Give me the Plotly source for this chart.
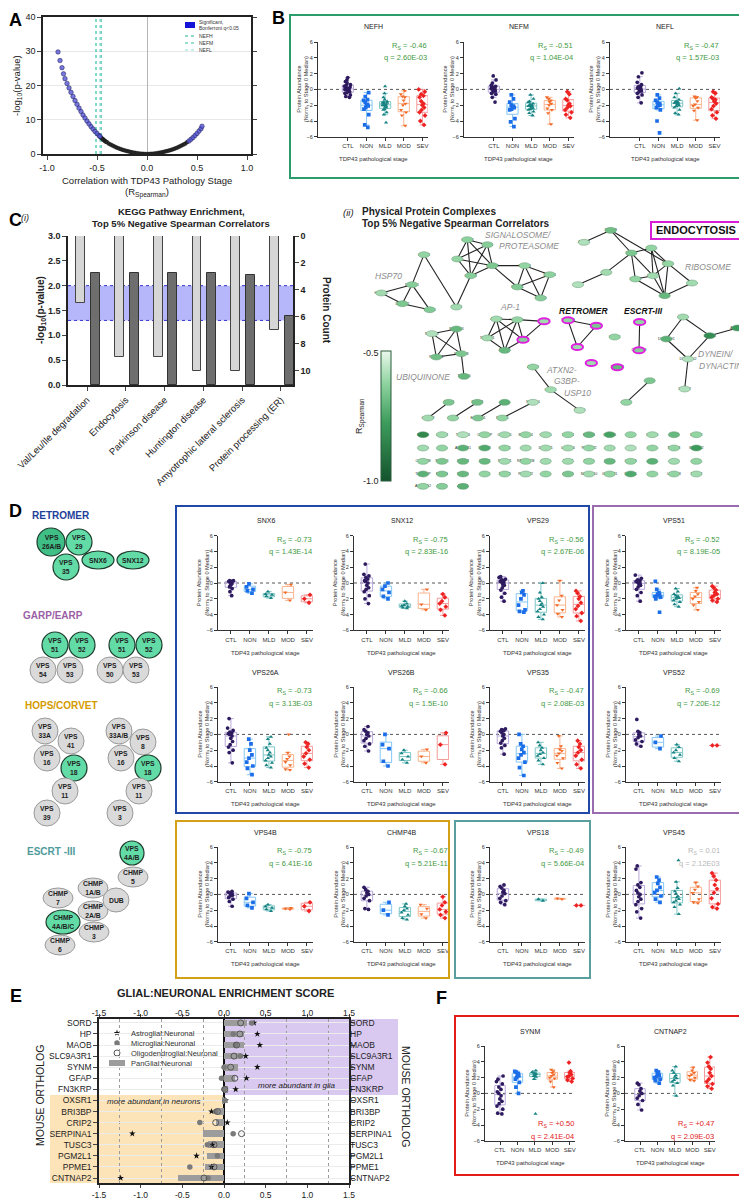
import plotly.graph_objects as go
import plotly.colors as pc

W, H = 747, 1199
FONT = "Liberation Sans, Arial, sans-serif"

# ---------------- A : volcano ----------------
A_SIG_R = [-0.89, -0.87, -0.85, -0.835, -0.82, -0.80, -0.78, -0.76, -0.74, -0.72, -0.70, -0.68, -0.66,
           -0.64, -0.62, -0.60, -0.58, -0.56, -0.54, -0.52, -0.50, -0.48, -0.47,
           0.42, 0.44, 0.46, 0.48, 0.50, 0.52, 0.54, 0.55]
A_SIG_P = [29.8, 27.3, 25.2, 23.4, 22.0, 20.6, 19.3, 18.0, 16.8, 15.6, 14.5, 13.4, 12.4,
           11.4, 10.5, 9.6, 8.8, 8.0, 7.3, 6.6, 6.0, 5.4, 5.1,
           3.8, 4.3, 4.8, 5.4, 6.0, 6.7, 7.4, 8.1]
A_NS_R = [-0.46, -0.45, -0.44, -0.43, -0.42, -0.41, -0.40, -0.38, -0.36, -0.34, -0.32, -0.30, -0.28, -0.26,
          -0.24, -0.22, -0.20, -0.18, -0.16, -0.14, -0.12, -0.10, -0.08, -0.06, -0.04, -0.02, 0.0, 0.02,
          0.04, 0.06, 0.08, 0.10, 0.12, 0.14, 0.16, 0.18, 0.20, 0.22, 0.24, 0.26, 0.28, 0.30, 0.32, 0.34,
          0.36, 0.38, 0.40]
A_NS_P = [4.8, 4.5, 4.3, 4.0, 3.8, 3.6, 3.4, 3.0, 2.7, 2.4, 2.1, 1.85, 1.6, 1.4, 1.2, 1.0, 0.85, 0.7,
          0.56, 0.44, 0.33, 0.25, 0.17, 0.1, 0.05, 0.02, 0.0, 0.02, 0.05, 0.1, 0.17, 0.25, 0.33, 0.44,
          0.56, 0.7, 0.85, 1.0, 1.2, 1.4, 1.6, 1.85, 2.1, 2.4, 2.7, 3.0, 3.4]

# ---------------- box plot data (CTL, NON, MLD, MOD, SEV) ----------------
STAGES = ["CTL", "NON", "MLD", "MOD", "SEV"]
NEFH = [[1.5, 1.2, 1.0, 0.8, 0.6, 0.5, 0.4, 0.3, 0.2, 0.1, 0.0, 0.0, -0.1, -0.2, -0.3, -0.4, -0.5, -0.7, -0.9, -1.0],
        [-0.4, -0.9, -1.3, -1.4, -1.6, -1.9, -2.0, -2.1, -2.3, -2.5, -3.2, -4.5, -4.8],
        [0.4, -0.5, -1.0, -1.3, -1.5, -1.6, -1.7, -1.7, -1.8, -1.9, -2.0, -2.0, -2.1, -2.2, -2.3, -2.5, -2.6, -2.9, -3.2, -4.2],
        [-0.2, -0.6, -0.9, -1.0, -1.4, -1.8, -2.0, -2.6, -2.9, -3.3, -4.6],
        [0.0, -0.3, -0.6, -0.8, -1.0, -1.5, -1.8, -2.0, -2.3, -2.6, -2.9, -3.3, -4.0, -4.5]]
NEFM = [[1.7, 1.2, 0.8, 0.5, 0.4, 0.3, 0.2, 0.1, 0.0, 0.0, -0.1, -0.2, -0.3, -0.5, -0.6, -1.0, -1.6],
        [-0.7, -1.2, -1.6, -2.0, -2.1, -2.2, -2.3, -2.5, -2.6, -3.7, -4.1, -4.7],
        [-0.7, -1.2, -1.5, -1.6, -1.8, -1.9, -2.0, -2.1, -2.1, -2.2, -2.3, -2.4, -2.5, -2.6, -2.8, -3.0, -3.3],
        [-1.0, -1.2, -1.4, -1.6, -1.8, -2.0, -2.4, -2.6, -3.0, -4.4],
        [-0.3, -0.6, -1.2, -1.4, -1.8, -2.0, -2.1, -2.3, -2.6, -2.9, -3.2, -3.6]]
NEFL = [[2.1, 1.6, 0.9, 0.6, 0.4, 0.3, 0.2, 0.1, 0.0, -0.1, -0.2, -0.3, -0.5, -0.7, -1.0, -1.7],
        [-0.7, -1.1, -1.4, -1.6, -1.8, -1.9, -2.0, -2.1, -2.3, -2.6, -4.0, -5.5],
        [0.1, -0.5, -1.0, -1.3, -1.5, -1.6, -1.7, -1.7, -1.8, -1.9, -2.0, -2.1, -2.3, -2.6, -3.0, -3.2],
        [-0.9, -1.0, -1.1, -1.5, -1.9, -2.1, -2.3, -2.7, -3.9],
        [-0.3, -0.5, -1.0, -1.2, -1.3, -1.5, -1.8, -2.1, -2.5, -2.9, -3.3, -3.7]]
SNX6 = [[0.3, 0.3, 0.2, 0.2, 0.1, 0.1, 0.0, -0.1, -0.3, -0.5, -0.7, -1.1, -1.6],
        [-0.1, -0.5, -0.8, -1.0, -1.3], [-1.1, -1.4, -1.5, -1.7, -1.9], [-0.2, -1.2, -2.2], [-1.5, -2.0, -2.5]]
SNX12 = [[2.4, 1.1, 0.9, 0.7, 0.5, 0.3, 0.2, 0.0, -0.3, -0.6, -0.8, -1.1, -1.6, -2.0, -2.6],
         [0.0, -0.4, -0.8, -1.2, -1.7, -2.0], [-2.3, -2.6, -2.8, -2.9, -3.0, -3.1, -3.2], [-0.8, -2.7, -3.4],
         [-1.4, -1.8, -2.3, -2.6, -3.0, -3.4, -4.1]]
VPS29 = [[0.8, 0.7, 0.5, 0.4, 0.3, 0.2, 0.1, 0.0, -0.2, -0.3, -0.6, -0.9, -1.3, -1.8, -2.3],
         [-1.0, -1.2, -1.5, -2.0, -2.8, -3.4, -3.6, -3.7],
         [0.0, -1.2, -1.8, -2.0, -2.3, -2.6, -2.8, -3.0, -3.3, -3.6, -4.0, -4.3, -4.6],
         [0.3, -1.6, -2.2, -2.8, -3.4, -3.9, -4.3],
         [-1.0, -1.3, -1.7, -2.0, -2.5, -2.9, -3.3, -3.8, -4.2, -4.8]]
VPS51 = [[1.0, 0.6, 0.4, 0.3, 0.2, 0.1, 0.0, -0.1, -0.3, -0.5, -0.8, -1.2, -1.6, -2.3],
         [0.2, -0.8, -1.2, -1.4, -1.5, -1.6, -1.7, -1.8, -2.0, -3.7],
         [-0.7, -1.1, -1.4, -1.6, -1.7, -1.8, -1.9, -2.0, -2.2, -2.4, -2.7, -3.0],
         [-0.6, -1.0, -1.4, -1.7, -2.0, -2.4, -2.8, -3.4],
         [-0.4, -0.6, -0.9, -1.2, -1.4, -1.6, -1.8, -2.0, -2.2, -2.4]]
VPS26A = [[2.0, 0.8, 0.5, 0.3, 0.2, 0.1, 0.0, -0.2, -0.5, -0.9, -1.3, -1.6, -2.0, -2.3, -3.6],
          [-0.6, -1.2, -2.0, -2.6, -3.0, -3.5, -4.0, -4.3, -5.1],
          [-0.3, -0.6, -1.2, -1.7, -2.0, -2.3, -2.6, -2.8, -3.0, -3.3, -3.6, -3.9, -4.2],
          [0.0, -2.3, -2.8, -3.1, -3.5, -3.9, -4.4, -4.5],
          [-1.0, -1.2, -1.6, -2.0, -2.4, -2.8, -3.2, -3.7, -4.2]]
VPS26B = [[1.0, 0.6, 0.4, 0.2, 0.0, -0.2, -0.5, -0.8, -1.2, -1.5, -2.1],
          [0.0, -1.3, -1.8, -3.4, -4.0], [-2.0, -2.4, -2.8, -3.2, -3.6], [-1.9, -2.8, -3.6], [0.2, -1.3, -3.8]]
VPS35 = [[0.7, 0.6, 0.5, 0.4, 0.2, 0.0, -0.2, -0.5, -0.8, -1.1, -1.4, -1.7, -2.5],
         [0.0, -1.2, -1.5, -1.9, -2.3, -2.6, -3.0, -3.5, -4.2, -5.2],
         [-1.0, -1.4, -1.7, -2.0, -2.3, -2.5, -2.7, -3.0, -3.3, -3.8],
         [-0.2, -1.5, -1.9, -2.1, -2.4, -2.7, -3.0, -3.6, -4.3],
         [-0.8, -1.2, -1.6, -2.0, -2.3, -2.7, -3.2, -3.8, -4.3]]
VPS52 = [[1.9, 0.4, 0.2, 0.0, -0.2, -0.4, -0.7, -0.9, -1.2, -1.5],
         [-0.2, -1.0, -1.8], [-1.3, -1.6, -2.0, -2.3, -2.6, -3.0, -3.4], [], [-1.4, -1.4]]
VPS4B = [[0.4, 0.3, 0.2, 0.1, 0.0, -0.1, -0.2, -0.4, -0.6, -0.9, -1.5],
         [0.1, -0.5, -1.0, -1.4, -1.7], [-1.3, -1.5, -1.7, -1.9, -2.1], [-1.7, -1.8, -1.9], [-1.0, -1.5, -2.1]]
CHMP4B = [[0.9, 0.6, 0.4, 0.2, 0.0, -0.2, -0.5, -0.8, -1.8, -1.9],
          [-1.0, -2.0, -2.6], [-1.2, -1.5, -1.8, -2.0, -2.3, -2.6, -3.0, -3.2], [-1.3, -1.8, -2.5, -3.0],
          [-0.3, -1.0, -1.4, -1.9, -2.2, -2.6, -3.0]]
VPS18 = [[1.2, 1.0, 0.8, 0.5, 0.3, 0.1, -0.2, -0.5, -0.8, -1.0, -1.3], [], [-0.6, -0.8], [-0.5, -0.6], [-1.4, -1.4]]
VPS45 = [[3.6, 3.2, 1.5, 1.2, 0.9, 0.5, 0.2, 0.0, -0.3, -0.6, -0.9, -1.3, -1.8, -2.2, -3.0],
         [2.2, 1.8, 1.4, 0.9, 0.5, 0.2, -0.2, -0.6, -1.0],
         [4.3, 1.6, 0.8, 0.4, 0.1, -0.2, -0.4, -0.6, -0.8, -1.0, -1.3, -1.6, -2.5],
         [1.5, 1.0, 0.6, 0.2, -0.6, -1.0, -1.1],
         [2.7, 2.3, 1.8, 1.2, 0.7, 0.2, -0.5, -1.2, -1.6, -1.8]]
SYNM = [[2.2, 1.8, 1.5, 1.2, 0.8, 0.5, 0.2, 0.0, -0.3, -0.7, -1.0, -1.3, -1.6, -2.0, -2.5, -2.6],
        [2.8, 2.7, 2.5, 2.3, 2.2, 2.0, 1.8, 1.4, 0.8, 0.0],
        [2.9, 2.7, 2.6, 2.5, 2.4, 2.4, 2.3, 2.2, 2.1, 1.8, -2.6],
        [3.0, 2.8, 2.6, 2.4, 2.2, 2.0, 1.9, 1.5, 0.8],
        [3.9, 2.8, 2.6, 2.4, 2.2, 2.1, 1.9, 1.7, 1.5]]
CNTNAP2 = [[1.3, 1.1, 0.6, 0.3, 0.0, -0.3, -0.6, -0.9, -1.4, -2.1],
           [2.9, 2.7, 2.5, 2.3, 2.1, 2.0, 1.8, 1.6, 1.3],
           [3.4, 2.9, 2.6, 2.3, 2.1, 1.9, 1.7, 1.5, 1.3, 1.0, -0.3],
           [3.3, 2.9, 2.6, 2.4, 2.2, 2.0, 1.7, 1.6],
           [4.6, 3.9, 3.4, 3.1, 2.6, 2.2, 1.8, 1.5, 1.2, 0.9, 0.6]]

NEF_NAMES = ["NEFH", "NEFM", "NEFL"]
NEF_RS = [-0.46, -0.51, -0.47]
NEF_Q = ["2.60E-03", "1.04E-04", "1.57E-03"]

# ---------------- C(i) : KEGG ----------------
KEGG_TERMS = ["Val/Leu/Ile degradation", "Endocytosis", "Parkinson disease", "Huntington disease",
              "Amyotrophic lateral sclerosis", "Protein processing (ER)"]
KEGG_LOGP = [2.26, 2.26, 2.26, 2.26, 2.22, 1.39]
KEGG_COUNT = [5, 9, 9, 10, 10, 7]

# ---------------- C(ii) : network (layout units) ----------------
NET_NODES = [
    ("CCT6B", 258, 125, -0.62, 0), ("DNAJA1", 222, 215, -0.64, 0), ("HSPA4L", 130, 240, -0.60, 0),
    ("DNAJA2", 193, 272, -0.66, 0), ("HSPA4", 275, 290, -0.65, 0), ("STAT3", 355, 282, -0.60, 0),
    ("COPS3", 388, 80, -0.63, 0), ("TCEB1", 448, 95, -0.64, 0), ("GPS1", 358, 138, -0.62, 0),
    ("COPS2", 463, 158, -0.66, 0), ("COPS8", 398, 188, -0.64, 0), ("PSMD4", 560, 158, -0.62, 0),
    ("PSMC4", 635, 185, -0.63, 0), ("PSMC1", 538, 222, -0.65, 0), ("UCHL5", 608, 255, -0.64, 0),
    ("ACAA1", 738, 88, -0.58, 0), ("SNRPB", 818, 52, -0.68, 0), ("RPL38", 880, 120, -0.66, 0),
    ("RTCA", 940, 105, -0.62, 0), ("EIF3I", 805, 178, -0.60, 0), ("NACA", 720, 215, -0.58, 0),
    ("RPS15", 990, 152, -0.62, 0), ("RPS27", 945, 188, -0.60, 0), ("RPS23", 892, 198, -0.62, 0),
    ("EIF1", 980, 248, -0.70, 0), ("EIF5", 1062, 210, -0.60, 0),
    ("AP1M1", 475, 318, -0.60, 0), ("AP1B1", 538, 320, -0.62, 0), ("AAK1", 618, 325, -0.60, 1),
    ("NECAP1", 448, 375, -0.60, 0), ("AP1S2", 555, 380, -0.64, 1), ("AP1G1", 500, 412, -0.70, 0),
    ("VPS26A", 690, 322, -0.62, 1), ("SNX12", 775, 338, -0.66, 1), ("VPS35", 718, 402, -0.60, 1),
    ("VPS52", 830, 372, -0.62, 0), ("EHD1", 760, 450, -0.60, 1), ("SNAP91", 838, 463, -0.70, 1),
    ("VPS4B", 905, 327, -0.62, 1), ("CHMP4B", 903, 412, -0.64, 1),
    ("NDUFA7", 282, 362, -0.58, 0), ("NDUFS3", 355, 348, -0.70, 0), ("NDUFV1", 295, 432, -0.68, 0),
    ("NDUFS8", 370, 422, -0.66, 0), ("TIMM50", 378, 490, -0.70, 0),
    ("ATXN2", 585, 462, -0.62, 0), ("G3BP1", 638, 530, -0.60, 0), ("USP10", 725, 592, -0.58, 0),
    ("KIF5A", 1035, 312, -0.60, 0), ("DYNC1H1", 985, 378, -0.72, 0), ("DCTN4", 1115, 368, -0.82, 0),
    ("ACTR1B", 1198, 345, -0.78, 0), ("DYNC1LI2", 1050, 438, -0.58, 0), ("DCDC2", 1040, 528, -0.58, 0),
    ("TEC", 935, 503, -0.66, 0), ("CARS", 865, 568, -0.62, 0), ("ATP5J", 332, 568, -0.66, 0),
    ("C14orf2", 270, 615, -0.60, 0), ("RAB1B", 418, 568, -0.68, 0), ("BNIP1", 345, 615, -0.62, 0),
    ("DST", 500, 568, -0.72, 0), ("ECHDC1", 420, 615, -0.66, 0), ("NAP1L4", 585, 568, -0.58, 0),
    ("MAP1S", 493, 615, -0.62, 0),
]
NET_EDGES = [
    ("CCT6B", "DNAJA1"), ("CCT6B", "STAT3"), ("DNAJA1", "HSPA4L"), ("DNAJA1", "DNAJA2"), ("DNAJA1", "HSPA4"),
    ("HSPA4L", "DNAJA2"), ("DNAJA2", "HSPA4"), ("STAT3", "COPS8"),
    ("COPS3", "TCEB1"), ("COPS3", "GPS1"), ("COPS3", "COPS2"), ("COPS3", "COPS8"), ("TCEB1", "GPS1"),
    ("TCEB1", "COPS2"), ("TCEB1", "COPS8"), ("GPS1", "COPS2"), ("GPS1", "COPS8"), ("COPS2", "COPS8"),
    ("COPS2", "PSMD4"), ("COPS2", "PSMC1"), ("PSMD4", "PSMC4"), ("PSMD4", "PSMC1"), ("PSMD4", "UCHL5"),
    ("PSMC4", "PSMC1"), ("PSMC4", "UCHL5"), ("PSMC1", "UCHL5"),
    ("ACAA1", "SNRPB"), ("SNRPB", "RPL38"), ("SNRPB", "RPS15"), ("RPL38", "RTCA"), ("RPL38", "EIF3I"),
    ("RPL38", "RPS23"), ("RPL38", "RPS27"), ("RTCA", "RPS15"), ("RTCA", "RPS27"), ("RTCA", "EIF1"),
    ("RPS15", "RPS27"), ("RPS15", "EIF1"), ("RPS15", "EIF5"), ("RPS27", "RPS23"), ("RPS27", "EIF1"),
    ("RPS23", "EIF1"), ("EIF3I", "NACA"), ("EIF5", "EIF1"),
    ("AP1M1", "AP1B1"), ("AP1M1", "NECAP1"), ("AP1M1", "AP1S2"), ("AP1M1", "AP1G1"), ("AP1B1", "NECAP1"),
    ("AP1B1", "AP1S2"), ("AP1B1", "AP1G1"), ("AP1B1", "AAK1"), ("NECAP1", "AP1G1"), ("AP1S2", "AP1G1"),
    ("AAK1", "AP1S2"),
    ("VPS26A", "SNX12"), ("VPS26A", "VPS35"), ("SNX12", "VPS35"), ("VPS4B", "CHMP4B"),
    ("NDUFA7", "NDUFS3"), ("NDUFA7", "NDUFV1"), ("NDUFA7", "NDUFS8"), ("NDUFS3", "NDUFV1"),
    ("NDUFS3", "NDUFS8"), ("NDUFV1", "NDUFS8"), ("NDUFS8", "TIMM50"),
    ("ATXN2", "G3BP1"), ("G3BP1", "USP10"),
    ("KIF5A", "DYNC1H1"), ("KIF5A", "DCTN4"), ("DCTN4", "ACTR1B"), ("DCTN4", "DYNC1LI2"),
    ("DYNC1H1", "DYNC1LI2"), ("DYNC1LI2", "DCDC2"),
    ("TEC", "CARS"), ("ATP5J", "C14orf2"), ("RAB1B", "BNIP1"), ("DST", "ECHDC1"), ("NAP1L4", "MAP1S"),
]
GRID_X = [255, 312, 375, 440, 500, 563, 623, 690, 753, 815, 878, 943, 1008, 1075]
GRID_Y = [665, 705, 745, 783, 820]
GRID_NAMES = [
    ["PPM1E", "CALM3", "TGFB1I1", "CACYBP", "CRELD1", "MAP2K4", "GDPD1", "UCHL1", "RHOT1", "C9orf16", "TXN2", "UBXN6", "CHP1", "DUSP3"],
    ["TRMO", "CST3", "ALDH1B1", "PIP4P2", "GSTO1", "CAP2", "DAZAP1", "LPCAT4", "POLDIP2", "SV2C", "UPF1", "PREB", "NDRG3", "SPOCK2"],
    ["CORO2B", "SLC6A1", "STRAP", "STAU2", "SPTAN1", "RABGGTB", "FKTN", "EMC7", "NCDN", "MTPN", "CYB5B", "KRT8", "TPP2", "CBR1"],
    ["TOR1AIP", "RAB1A", "BASP1", "OSBP", "SCN3B", "PSTPIP2", "FER", "MECR", "NDUFB10", "GRIPAP1", "DECR1", "PDPR", "LPCAT3", "TPGS2"],
    ["ALDH3A2", "RHEB", "ATAD1"],
]
GRID_R = [
    [-0.84, -0.60, -0.58, -0.62, -0.60, -0.62, -0.60, -0.62, -0.70, -0.76, -0.62, -0.60, -0.70, -0.62],
    [-0.60, -0.62, -0.72, -0.74, -0.62, -0.60, -0.60, -0.60, -0.62, -0.60, -0.58, -0.62, -0.62, -0.78],
    [-0.62, -0.66, -0.70, -0.70, -0.60, -0.62, -0.60, -0.60, -0.62, -0.70, -0.62, -0.72, -0.60, -0.62],
    [-0.72, -0.66, -0.70, -0.62, -0.62, -0.60, -0.62, -0.66, -0.60, -0.62, -0.74, -0.62, -0.62, -0.60],
    [-0.62, -0.64, -0.72],
]
R_COLORSCALE = [[0.0, "#14532d"], [0.45, "#3d9c5c"], [0.75, "#8fd3a0"], [1.0, "#eaf8ec"]]

# ---------------- D : complex diagrams (label, cx, cy, rx, ry, kind) ----------------
DIAG_NODES = [
    ("VPS<br>26A/B", 43, 534, 14, 14, "d"), ("VPS<br>29", 71, 534, 13, 13, "g"), ("VPS<br>35", 58, 559, 13, 13, "g"),
    ("SNX6", 90, 552, 16, 9, "g"), ("SNX12", 125, 552, 16, 9, "g"),
    ("VPS<br>54", 35, 662, 13, 13, "n"), ("VPS<br>53", 62, 662, 13, 13, "n"),
    ("VPS<br>51", 47, 637, 13, 13, "g"), ("VPS<br>52", 74, 637, 13, 13, "g"),
    ("VPS<br>50", 102, 662, 13, 13, "n"), ("VPS<br>53", 128, 662, 13, 13, "n"),
    ("VPS<br>51", 114, 637, 13, 13, "g"), ("VPS<br>52", 141, 637, 13, 13, "g"),
    ("VPS<br>33A", 37, 723, 13, 13, "n"), ("VPS<br>41", 63, 733, 13, 13, "n"), ("VPS<br>16", 39, 750, 13, 13, "n"),
    ("VPS<br>18", 66, 760, 13, 13, "g"), ("VPS<br>11", 57, 783, 13, 13, "n"), ("VPS<br>39", 39, 805, 13, 13, "n"),
    ("VPS<br>33A/B", 111, 723, 13, 13, "n"), ("VPS<br>8", 135, 734, 13, 13, "n"), ("VPS<br>16", 113, 750, 13, 13, "n"),
    ("VPS<br>18", 140, 760, 13, 13, "g"), ("VPS<br>11", 131, 783, 13, 13, "n"), ("VPS<br>3", 112, 805, 13, 13, "n"),
    ("CHMP<br>7", 50, 890, 15, 10, "n"), ("CHMP<br>6", 52, 937, 15, 10, "n"), ("CHMP<br>3", 86, 924, 15, 10, "n"),
    ("CHMP<br>2A/B", 85, 903, 15, 10, "n"), ("CHMP<br>1A/B", 85, 880, 15, 10, "n"), ("DUB", 108, 892, 13, 12, "n"),
    ("CHMP<br>5", 125, 869, 15, 10, "n"), ("VPS<br>4A/B", 124, 845, 12, 12, "g"),
    ("CHMP<br>4A/B/C", 55, 914, 17, 12, "g"),
]

# ---------------- E : glial/neuronal enrichment ----------------
E_GENES = ["SORD", "HP", "MAOB", "SLC9A3R1", "SYNM", "GFAP", "FN3KRP", "OXSR1", "BRI3BP", "CRIP2",
           "SERPINA1", "TUSC3", "PGM2L1", "PPME1", "CNTNAP2"]
E_PAN = [0.28, 0.24, 0.24, 0.20, 0.17, 0.13, 0.05, -0.03, -0.09, -0.10, -0.25, -0.19, -0.21, -0.23, -0.55]
E_ASTRO = [0.36, 0.40, 0.43, 0.26, 0.40, 0.27, 0.14, 0.02, -0.15, 0.04, -1.10, -0.14, -0.33, -0.15, -1.24]
E_MICRO = [0.33, 0.11, 0.14, 0.20, 0.00, -0.03, 0.00, 0.01, -0.10, -0.29, 0.11, -0.20, -0.08, -0.41, -0.19]
E_OLIGO = [0.20, 0.19, 0.15, 0.12, 0.08, 0.13, 0.01, None, -0.08, -0.10, 0.21, -0.12, None, -0.12, -0.24]
E_SERIES = ["Astroglial:Neuronal", "Microglial:Neuronal", "Oligodendroglial:Neuronal", "PanGlial:Neuronal"]

# ---------------- helpers ----------------
fig = go.Figure()
AX, SHAPES, ANNS = {}, [], []
_n = [0]


def px(x):
    return x / W


def py(y):
    return 1 - y / H


def txt(x, y, s, size=7, color="#222222", xa="center", ya="middle", angle=0):
    ANNS.append(dict(x=px(x), y=py(y), xref="paper", yref="paper", text=s, showarrow=False,
                     font=dict(size=size, color=color, family=FONT), xanchor=xa, yanchor=ya,
                     textangle=angle))


def frame(x0, y0, x1, y1, color, width=2):
    SHAPES.append(dict(type="rect", xref="paper", yref="paper", x0=px(x0), x1=px(x1), y0=py(y1), y1=py(y0),
                       line=dict(color=color, width=width), fillcolor="rgba(0,0,0,0)"))


def axes(x0, y0, x1, y1, xkw, ykw):
    _n[0] += 1
    s = "" if _n[0] == 1 else str(_n[0])
    AX["xaxis" + s] = dict(domain=[px(x0), px(x1)], anchor="y" + s, automargin=False, **xkw)
    AX["yaxis" + s] = dict(domain=[py(y1), py(y0)], anchor="x" + s, automargin=False, **ykw)
    return "x" + s, "y" + s


def extra_axis(kind, **kw):
    _n[0] += 1
    AX[kind + "axis" + str(_n[0])] = dict(automargin=False, **kw)
    return kind + str(_n[0])


def tf(size, color="#222222", bold=False):
    d = dict(size=size, color=color, family=FONT)
    if bold:
        d["weight"] = "bold"
    return d


STAGE_COLORS = ["#2e1a5e", "#1c6ee8", "#178282", "#f26b2a", "#ee2222"]
BOX_LINES = ["#b9a9db", "#86c6f4", "#7fc7c7", "#f9b48f", "#f49a9a"]
SYMBOLS = ["circle", "square", "triangle-up", "triangle-down", "diamond"]
GREEN_TXT = "#3f9a3f"


def box_panel(name, groups, ax, y6, width, xr, rs, q, col, bottom=False):
    xkw = dict(range=xr, tickvals=[0, 1, 2, 3, 4], ticktext=STAGES, showline=True, linecolor="#333",
               linewidth=1, ticks="outside", ticklen=3, tickcolor="#333", tickfont=tf(6, "#333"),
               showgrid=False, zeroline=False)
    ykw = dict(range=[-6, 6], tickvals=[-6, -4, -2, 0, 2, 4, 6], showline=True, linecolor="#333",
               linewidth=1, ticks="outside", ticklen=3, tickcolor="#333", tickfont=tf(5.5, "#333"),
               showgrid=False, zeroline=False)
    xa, ya = axes(ax, y6, ax + width, y6 + 94.8, xkw, ykw)
    SHAPES.append(dict(type="line", xref=xa, yref=ya, x0=xr[0], x1=xr[1], y0=0, y1=0,
                       line=dict(color="#555", width=1, dash="dot"), layer="below"))
    for i, vals in enumerate(groups):
        if not vals:
            continue
        fig.add_trace(go.Box(x=[i] * len(vals), y=vals, xaxis=xa, yaxis=ya, boxpoints="all", jitter=0.7,
                             pointpos=0, width=0.6, whiskerwidth=0.5, fillcolor="rgba(0,0,0,0)",
                             line=dict(color=BOX_LINES[i], width=1),
                             marker=dict(color=STAGE_COLORS[i], size=3.7, symbol=SYMBOLS[i]),
                             showlegend=False, hoverinfo="y"))
    cx = ax + width / 2
    txt(cx, y6 - 15, name, 7, "#222")
    txt(ax - 15, y6 + 47, "Protein Abundance<br>(Norm. to Stage 0 Median)", 5.6, "#333", angle=-90)
    txt(cx, y6 + 117, "TDP43 pathological stage", 6, "#333")
    ry = y6 + 78 if bottom else y6 + 4
    txt(ax + width + 1, ry, "R<sub>S</sub> = " + rs, 7.5, col, xa="right")
    txt(ax + width + 1, ry + 12, "q = " + q, 7.5, col, xa="right")


# hidden full-page pixel axes for legend keys
kx, ky = axes(0, 0, W, H, dict(range=[0, W], visible=False), dict(range=[H, 0], visible=False))

# ================= A =================
xa, ya = axes(35, 9, 243, 146,
              dict(range=[-1.04, 1.04], tickvals=[-1, -0.5, 0, 0.5, 1], ticktext=["-1.0", "-0.5", "0.0", "0.5", "1.0"],
                   showline=True, linecolor="#222", linewidth=1.5, mirror=True, ticks="outside", ticklen=4,
                   tickfont=tf(9), showgrid=False, zeroline=True, zerolinecolor="#b5b5b5", zerolinewidth=1),
              dict(range=[0, 40], tickvals=[0, 10, 20, 30, 40], showline=True, linecolor="#222", linewidth=1.5,
                   mirror="ticks", ticks="outside", ticklen=4, tickfont=tf(9), showgrid=True,
                   gridcolor="#e8e8e8", zeroline=False))
NEF_LINE_COLORS = ["#1fb08a", "#2ec2a2", "#8edede"]
for nm, r, c in zip(NEF_NAMES, NEF_RS, NEF_LINE_COLORS):
    fig.add_trace(go.Scatter(x=[r, r], y=[0, 40], mode="lines", line=dict(color=c, width=1.2, dash="dot"),
                             name=nm, xaxis=xa, yaxis=ya, showlegend=False))
fig.add_trace(go.Scatter(x=A_NS_R, y=A_NS_P, mode="markers", xaxis=xa, yaxis=ya, showlegend=False,
                         marker=dict(size=4, color="#2b2b2b", line=dict(width=0.3, color="#000"))))
fig.add_trace(go.Scatter(x=A_SIG_R, y=A_SIG_P, mode="markers", xaxis=xa, yaxis=ya, showlegend=False,
                         marker=dict(size=4.5, color="rgba(85,85,215,0.8)",
                                     line=dict(width=0.6, color="rgba(30,30,90,0.9)"))))
# legend (A)
SHAPES.append(dict(type="rect", xref="paper", yref="paper", x0=px(177), x1=px(187), y0=py(20), y1=py(14),
                   fillcolor="#1414d8", line=dict(width=0)))
txt(189, 14.3, "Significant,", 5, "#333", xa="left")
txt(189, 19.8, "Bonferroni q&lt;0.05", 5, "#333", xa="left")
for i, (nm, c) in enumerate(zip(NEF_NAMES, NEF_LINE_COLORS)):
    yy = 28 + 7 * i
    SHAPES.append(dict(type="line", xref="paper", yref="paper", x0=px(177), x1=px(187), y0=py(yy), y1=py(yy),
                       line=dict(color=c, width=1, dash="dot")))
    txt(189, yy, nm, 5, "#333", xa="left")
txt(7, 12, "<b>A</b>", 18, "#000")
txt(139, 172, "Correlation with TDP43 Pathology Stage", 9.5)
txt(139, 184, "(R<sub>Spearman</sub>)", 9.5)
txt(9, 78, "-log<sub>10</sub>(p-value)", 9.5, angle=-90)

# ================= B =================
txt(270, 10, "<b>B</b>", 18, "#000")
frame(282, 7, 744, 170, "#2a9d6a")
for nm, grp, axx, r, q in zip(NEF_NAMES, [NEFH, NEFM, NEFL], [310, 456, 602], NEF_RS, NEF_Q):
    box_panel(nm, grp, axx, 34, 110, [-1.6, 4.3], "%.2f" % r, q, GREEN_TXT)

# ================= C(i) =================
txt(7, 212, "<b>C</b>", 18, "#000")
txt(17, 210, "<i>(i)</i>", 9)
txt(173, 203, "<b>KEGG Pathway Enrichment,</b>", 9.5)
txt(173, 215, "<b>Top 5% Negative Spearman Correlators</b>", 9.5)
xa, ya = axes(60, 228, 285, 377,
              dict(type="category", categoryorder="array", categoryarray=KEGG_TERMS, range=[-0.49, 5.31],
                   tickangle=-45, tickfont=tf(9.5), showline=True, linecolor="#222", linewidth=1.5,
                   ticks="outside", ticklen=4, showgrid=False),
              dict(range=[0, 3], tickvals=[0, 0.5, 1, 1.5, 2, 2.5, 3], tickformat=".1f", showline=True,
                   linecolor="#222", linewidth=1.5, ticks="outside", ticklen=4, tickfont=tf(9, bold=True),
                   showgrid=False, zeroline=False))
yr = extra_axis("y", overlaying=ya, side="right", anchor=xa, range=[11.04, 0], tickvals=[0, 2, 4, 6, 8, 10],
                showline=True, linecolor="#222", linewidth=1.5, ticks="outside", ticklen=4,
                tickfont=tf(9, bold=True), showgrid=False, zeroline=False)
SHAPES.append(dict(type="rect", xref=xa + " domain", yref=ya, x0=0, x1=1, y0=1.3, y1=2.0,
                   fillcolor="rgba(110,110,245,0.5)", line=dict(width=0), layer="below"))
for yv in (1.3, 2.0):
    SHAPES.append(dict(type="line", xref=xa + " domain", yref=ya, x0=0, x1=1, y0=yv, y1=yv,
                       line=dict(color="#3434d0", width=1, dash="dot"), layer="below"))
fig.add_trace(go.Bar(x=KEGG_TERMS, y=KEGG_COUNT, xaxis=xa, yaxis=yr, width=0.23, offset=-0.28,
                     marker=dict(color="#d6d6d6", line=dict(color="#444", width=1)), showlegend=False))
fig.add_trace(go.Bar(x=KEGG_TERMS, y=KEGG_LOGP, xaxis=xa, yaxis=ya, width=0.23, offset=0.10,
                     marker=dict(color="#6e6e6e", line=dict(color="#333", width=1)), showlegend=False))
txt(33, 302, "<b>-log<sub>10</sub>(p-value)</b>", 10, angle=-90)
txt(318, 302, "<b>Protein Count</b>", 10, angle=90)

# ================= C(ii) network =================
txt(333, 205, "<i>(ii)</i>", 9.5, xa="left")
txt(352, 203, "<b>Physical Protein Complexes</b>", 10, xa="left")
txt(352, 215, "<b>Top 5% Negative Spearman Correlators</b>", 10, xa="left")
nx, ny = axes(330, 205, 747, 525, dict(range=[0, 1251], visible=False), dict(range=[960, 0], visible=False))
POS = {n[0]: (n[1], n[2]) for n in NET_NODES}
ex, ey = [], []
for a, b in NET_EDGES:
    ex += [POS[a][0], POS[b][0], None]
    ey += [POS[a][1], POS[b][1], None]
fig.add_trace(go.Scatter(x=ex, y=ey, mode="lines", line=dict(color="#222", width=1.1), xaxis=nx, yaxis=ny,
                         showlegend=False, hoverinfo="skip"))
all_nodes = [(n, x, y, r, e) for n, x, y, r, e in NET_NODES]
for ri, row in enumerate(GRID_NAMES):
    for ci, nm in enumerate(row):
        all_nodes.append((nm, GRID_X[ci], GRID_Y[ri], GRID_R[ri][ci], 0))
node_cols = pc.sample_colorscale(R_COLORSCALE, [min(1, max(0, (r + 1.0) / 0.5)) for _, _, _, r, _ in all_nodes])
for (nm, x, y, r, e), c in zip(all_nodes, node_cols):
    SHAPES.append(dict(type="circle", xref=nx, yref=ny, x0=x - 17, x1=x + 17, y0=y - 9, y1=y + 9,
                       fillcolor=c, line=dict(color="#e020e0" if e else "#6a9a78", width=2 if e else 0.5)))
fig.add_trace(go.Scatter(x=[n[1] for n in all_nodes], y=[n[2] for n in all_nodes], mode="text",
                         text=[n[0] for n in all_nodes], textfont=dict(size=3.6, color="#1a3322", family=FONT),
                         xaxis=nx, yaxis=ny, showlegend=False, hoverinfo="skip"))
fig.add_trace(go.Scatter(x=[-500], y=[-500], mode="markers", xaxis=nx, yaxis=ny, showlegend=False,
                         marker=dict(color=[-0.75], cmin=-1, cmax=-0.5, colorscale=R_COLORSCALE, showscale=True,
                                     colorbar=dict(x=px(373), xanchor="left", y=py(408), yanchor="middle",
                                                   len=130, lenmode="pixels", thickness=10,
                                                   thicknessmode="pixels", showticklabels=False, ticks="",
                                                   outlinecolor="#2b5c3c", outlinewidth=1, xpad=0, ypad=0))))
txt(363, 345, "-0.5", 9)
txt(363, 473, "-1.0", 9)
txt(352, 408, "R<sub>Spearman</sub>", 9, angle=-90)
SHAPES.append(dict(type="rect", xref="paper", yref="paper", x0=px(643), x1=px(732), y0=py(231), y1=py(214),
                   line=dict(color="#d81fd8", width=2)))
txt(687.5, 222.5, "<b>ENDOCYTOSIS</b>", 11, "#111")
GREY_I = "#8c8c8c"
for x, y, s in [(510, 227, "SIGNALOSOME/"), (521, 238, "PROTEASOME"), (380, 268, "HSP70"), (700, 259, "RIBOSOME"),
                (502, 299, "AP-1"), (415, 369, "UBIQUINONE"), (553, 362, "ATXN2-"), (559, 373, "G3BP-"),
                (569, 385, "USP10"), (708, 346, "DYNEIN/"), (713, 358, "DYNACTIN")]:
    txt(x, y, "<i>" + s + "</i>", 8.5, GREY_I)
txt(576, 303, "<b><i>RETROMER</i></b>", 8.5, "#111")
txt(635, 303, "<b><i>ESCRT-III</i></b>", 8.5, "#111")

# ================= D =================
txt(7, 503, "<b>D</b>", 18, "#000")
txt(22, 508, "<b>RETROMER</b>", 10, "#1f3f9a", xa="left")
txt(13, 607, "<b>GARP/EARP</b>", 10, "#9b5fa5", xa="left")
txt(15, 697, "<b>HOPS/CORVET</b>", 10, "#d49b00", xa="left")
txt(17, 843, "<b>ESCRT -III</b>", 10, "#4f9a9a", xa="left")
KIND_STYLE = {"g": ("#62dba6", "#1d3b2c", 1.2), "d": ("#3fbf86", "#1d3b2c", 1.2), "n": ("#dadada", "#9a9a9a", 1)}
for lab, cx, cy, rx, ry, k in DIAG_NODES:
    fc, lc, lw = KIND_STYLE[k]
    SHAPES.append(dict(type="circle", xref="paper", yref="paper", x0=px(cx - rx), x1=px(cx + rx),
                       y0=py(cy + ry), y1=py(cy - ry), fillcolor=fc, line=dict(color=lc, width=lw)))
    txt(cx, cy, "<b>" + lab + "</b>", 6.8, "#1e1e1e")

frame(168, 498, 581, 805, "#1f48a8")
frame(585, 498, 745, 805, "#9b6bb0")
frame(168, 813, 441, 970, "#d4a017")
frame(447, 813, 582, 970, "#5a9e9e")
D_ROWS = [
    [("SNX6", SNX6, "-0.73", "1.43E-14"), ("SNX12", SNX12, "-0.75", "2.83E-16"),
     ("VPS29", VPS29, "-0.56", "2.67E-06"), ("VPS51", VPS51, "-0.52", "8.19E-05")],
    [("VPS26A", VPS26A, "-0.73", "3.13E-03"), ("VPS26B", VPS26B, "-0.66", "1.5E-10"),
     ("VPS35", VPS35, "-0.47", "2.08E-03"), ("VPS52", VPS52, "-0.69", "7.20E-12")],
    [("VPS4B", VPS4B, "-0.75", "6.41E-16"), ("CHMP4B", CHMP4B, "-0.67", "5.21E-11"),
     ("VPS18", VPS18, "-0.49", "5.66E-04"), ("VPS45", VPS45, "0.01", "2.12E03")],
]
for row, y6 in zip(D_ROWS, [527.6, 679, 839]):
    for (nm, grp, r, q), axx in zip(row, [210, 346, 482, 618]):
        col = "#b8b8b8" if nm == "VPS45" else GREEN_TXT
        box_panel(nm, grp, axx, y6, 95, [-0.68, 4.32], r, q, col)

# ================= E =================
txt(8, 988, "<b>E</b>", 18, "#000")
txt(217, 985, "<b>GLIAL:NEURONAL ENRICHMENT SCORE</b>", 11)
E_TICKS = [-1.5, -1.0, -0.5, 0.0, 0.5, 1.0, 1.5]
E_TICKTXT = ["%.1f" % v for v in E_TICKS]
xa, ya = axes(91, 1011, 341, 1175,
              dict(range=[-1.5, 1.5], tickvals=E_TICKS, ticktext=E_TICKTXT, showline=True, linecolor="#222",
                   linewidth=1.5, mirror="ticks", ticks="outside", ticklen=3, tickfont=tf(8.5), showgrid=False,
                   zeroline=True, zerolinecolor="#111", zerolinewidth=2,
                   minor=dict(tickvals=[-1.25, -0.75, -0.25, 0.25, 0.75, 1.25], showgrid=True, griddash="dot",
                              gridcolor="#9a9a9a", gridwidth=1, ticks="")),
              dict(type="category", categoryorder="array", categoryarray=E_GENES, range=[14.45, -0.35],
                   showline=True, linecolor="#222", linewidth=1.5, mirror="ticks", ticks="outside", ticklen=4,
                   tickfont=tf(8.5), showgrid=True, gridcolor="#ececec"))
xt = extra_axis("x", overlaying=xa, side="top", anchor=ya, range=[-1.5, 1.5], tickvals=E_TICKS,
                ticktext=E_TICKTXT, showline=False, ticks="", tickfont=tf(8.5), showgrid=False, zeroline=False)
yt = extra_axis("y", overlaying=ya, side="right", anchor=xa, type="category", categoryorder="array",
                categoryarray=E_GENES, range=[14.45, -0.35], showline=False, ticks="", tickfont=tf(8.5),
                showgrid=False)
SHAPES.append(dict(type="rect", xref="paper", yref=ya, x0=px(216), x1=px(390), y0=-0.35, y1=6.5,
                   fillcolor="#d9c8f0", line=dict(width=0), layer="below"))
SHAPES.append(dict(type="rect", xref="paper", yref=ya, x0=px(42), x1=px(216), y0=6.5, y1=14.45,
                   fillcolor="#fde4b8", line=dict(width=0), layer="below"))
fig.add_trace(go.Bar(x=E_PAN, y=E_GENES, orientation="h", width=0.6, xaxis=xa, yaxis=ya,
                     marker=dict(color="#9c9c9c"), name=E_SERIES[3], showlegend=False))
E_MARK = [dict(symbol="star", size=5, color="#111"),
          dict(symbol="circle", size=5.5, color="#7a7a7a"),
          dict(symbol="circle-open", size=6, color="#555", line=dict(width=1))]
for vals, mk, nm in zip([E_ASTRO, E_MICRO, E_OLIGO], E_MARK, E_SERIES[:3]):
    fig.add_trace(go.Scatter(x=vals, y=E_GENES, mode="markers", xaxis=xt, yaxis=yt, marker=mk, name=nm,
                             showlegend=False))
# legend (E)
for i, (mk, nm) in enumerate(zip(E_MARK, E_SERIES[:3])):
    fig.add_trace(go.Scatter(x=[109], y=[1025 + 10 * i], mode="markers", marker=mk, xaxis=kx, yaxis=ky,
                             showlegend=False, hoverinfo="skip"))
    txt(121, 1025 + 10 * i, nm, 7.5, "#333", xa="left")
SHAPES.append(dict(type="rect", xref="paper", yref="paper", x0=px(101), x1=px(117), y0=py(1058), y1=py(1052),
                   fillcolor="#9c9c9c", line=dict(width=0)))
txt(121, 1055, E_SERIES[3], 7.5, "#333", xa="left")
txt(288, 1077, "<i>more abundant in glia</i>", 8)
txt(145, 1093, "<i>more abundant in neurons</i>", 8)
txt(32, 1088, "MOUSE ORTHOLOG", 10.5, angle=-90)
txt(398, 1088, "MOUSE ORTHOLOG", 10.5, angle=90)

# ================= F =================
txt(433, 990, "<b>F</b>", 18, "#000")
frame(447, 1008, 745, 1167, "#e41b1b")
box_panel("SYNM", SYNM, 477, 1038, 90, [-0.86, 4.3], "+0.50", "2.41E-04", "#e3201b", bottom=True)
box_panel("CNTNAP2", CNTNAP2, 617, 1038, 90, [-0.86, 4.3], "+0.47", "2.09E-03", "#e3201b", bottom=True)

fig.update_layout(
    template="none",
    width=W, height=H, margin=dict(l=0, r=0, t=0, b=0, pad=0),
    paper_bgcolor="white", plot_bgcolor="rgba(0,0,0,0)",
    font=dict(family=FONT, size=8, color="#222"),
    showlegend=False, boxmode="overlay", bargap=0,
    shapes=SHAPES, annotations=ANNS,
    **AX,
)
fig.write_html("out.html")
